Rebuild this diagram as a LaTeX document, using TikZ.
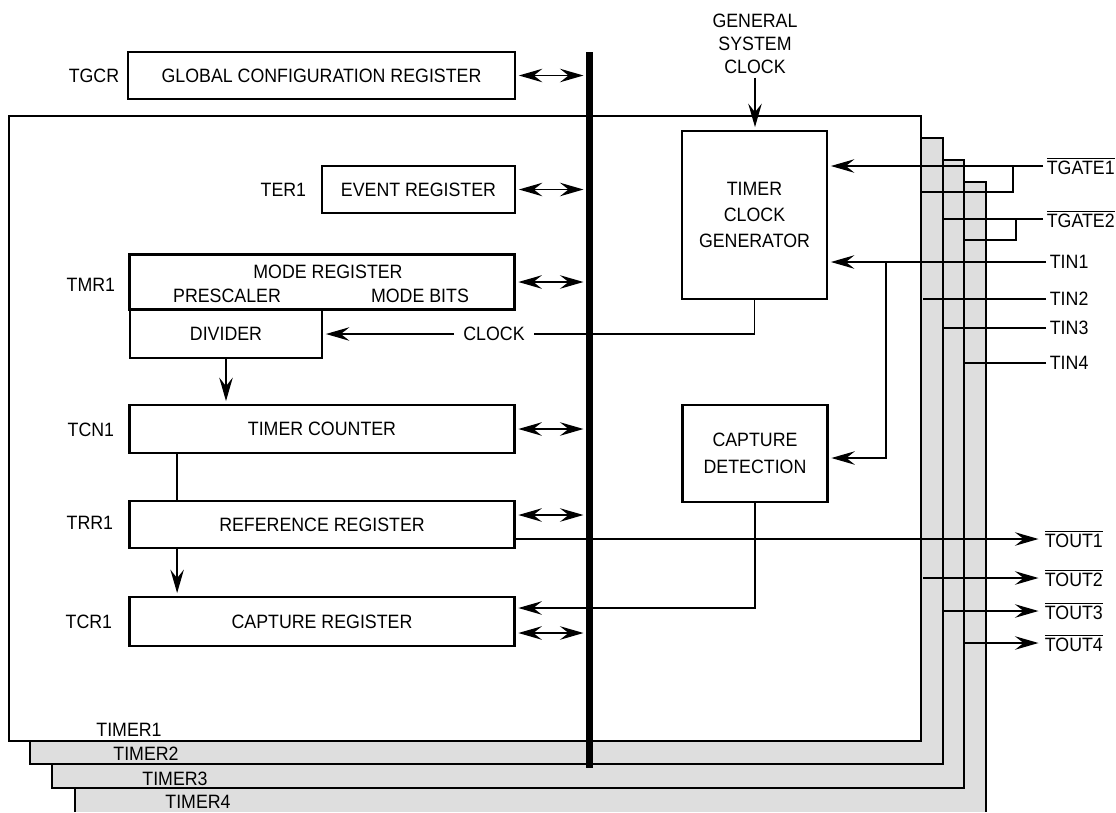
\documentclass[tikz,border=0pt]{standalone}
\usepackage{fontspec}
\setmainfont[FakeStretch=0.92]{Liberation Sans}
\usetikzlibrary{arrows.meta}
\newcommand{\ovl}[1]{$\overline{\mbox{#1}}$}

\begin{document}
\begin{tikzpicture}[x=0.02cm, y=-0.02cm,
  font=\fontsize{11}{13}\selectfont,
  tip/.tip={Stealth[length=0.47cm, width=0.27cm, inset=0.17cm]},
  reg/.style={rectangle, draw, line width=1.6pt, align=center, inner sep=0pt},
  frame/.style={draw, line width=1.6pt, fill=black!13},
  bus/.style={line width=4pt},
  w/.style={line width=0.9pt},
  e/.style={-tip, w, shorten >=0.05cm},
  bi/.style={tip-tip, w, shorten <=0.05cm, shorten >=0.05cm},
  lbl/.style={inner sep=2pt},
]
\useasboundingbox (0,0) rectangle (1116,812);

% timer frames, back to front
\fill[black!13] (75,182) rectangle (986,812);
\draw[line width=1.6pt] (75,812) |- (986,182) -- (986,812);
\foreach \xa/\ya/\xb/\yb in {52/160/964/788, 30/138/943/764}
  \draw[frame] (\xa,\ya) rectangle (\xb,\yb);
\draw[frame, fill=white] (9,116) rectangle (921,741);
\node[lbl] (tm1) at (129,730) {TIMER1};
\node[lbl] (tm2) at (146,754) {TIMER2};
\node[lbl] (tm3) at (175,779) {TIMER3};
\node[lbl] (tm4) at (198,802) {TIMER4};
\coordinate (f1) at (923,0);
\coordinate (f2) at (944,0);
\coordinate (f3) at (965,0);

% bus
\draw[bus] (589.5,52) -- (589.5,768);
\coordinate (bus) at (586,0);

% registers
\node[reg, minimum width=7.74cm, minimum height=0.94cm] (tgcr) at (321.5,75.5) {GLOBAL CONFIGURATION REGISTER};
\node[reg, minimum width=3.86cm, minimum height=0.94cm] (ter) at (418.5,189.5) {EVENT REGISTER};
\node[reg, minimum width=7.7cm, minimum height=1.1cm] (tmr) at (322,282) {};
\node[lbl] (modereg) at (328,272) {MODE REGISTER};
\node[lbl] (presc) at (227,296) {PRESCALER};
\node[lbl] (modebits) at (420,296) {MODE BITS};
\node[reg, minimum width=3.84cm, minimum height=0.96cm] (divider) at (226,334) {DIVIDER};
\node[reg, minimum width=7.7cm, minimum height=0.96cm] (tcn) at (322,429) {TIMER COUNTER};
\node[reg, minimum width=7.7cm, minimum height=0.94cm] (trr) at (322,524.5) {REFERENCE REGISTER};
\node[reg, minimum width=7.7cm, minimum height=0.98cm] (tcr) at (322,621.5) {CAPTURE REGISTER};
\node[reg, minimum width=2.9cm, minimum height=3.36cm] (clkgen) at (754.5,215) {TIMER\\[2pt]CLOCK\\[2pt]GENERATOR};
\node[reg, minimum width=2.9cm, minimum height=1.94cm] (capdet) at (755,453.5) {CAPTURE\\[2pt]DETECTION};

\node[lbl, anchor=east] (tgcrlbl) at (123,76) {TGCR};
\node[lbl, anchor=east] (terlbl) at (310,190) {TER1};
\node[lbl, anchor=east] (tmrlbl) at (119,285) {TMR1};
\node[lbl, anchor=east] (tcnlbl) at (118,430) {TCN1};
\node[lbl, anchor=east] (trrlbl) at (117,523) {TRR1};
\node[lbl, anchor=east] (tcrlbl) at (116,622) {TCR1};

% bus connections
\draw[bi] (tgcr.east) -- (tgcr.east -| bus);
\draw[bi] (ter.east) -- (ter.east -| bus);
\draw[bi] (tmr.east) -- (tmr.east -| bus);
\draw[bi] (tcn.east) -- (tcn.east -| bus);
\draw[bi] ([yshift=0.19cm]trr.east) -- ([yshift=0.19cm]trr.east -| bus);
\draw[bi] ([yshift=-0.23cm]tcr.east) -- ([yshift=-0.23cm]tcr.east -| bus);

% clocks
\node[lbl, align=center] (gsc) at (755,44) {GENERAL\\SYSTEM\\CLOCK};
\draw[e] (gsc.south) -- (gsc.south |- clkgen.north);
\node[lbl, inner xsep=5pt] (clk) at (494,334) {CLOCK};
\draw[w] (clkgen.south) |- (clk.east);
\draw[e] (clk.west) -- (divider.east);
\draw[e] (divider.south) -- (divider.south |- tcn.north);
\draw[w] ([xshift=0.98cm]tcn.south west) -- ([xshift=0.98cm]trr.north west);
\draw[e] ([xshift=0.98cm]trr.south west) -- ([xshift=0.98cm]tcr.north west);
\draw[e] (capdet.south) |- ([yshift=0.27cm]tcr.east);

% external pins
\node[lbl, anchor=west] (tgate1) at (1043,166) {\ovl{TGATE1}};
\node[lbl, anchor=west] (tgate2) at (1043,219) {\ovl{TGATE2}};
\node[lbl, anchor=west] (tin1) at (1046,262) {TIN1};
\node[lbl, anchor=west] (tin2) at (1046,299) {TIN2};
\node[lbl, anchor=west] (tin3) at (1046,328) {TIN3};
\node[lbl, anchor=west] (tin4) at (1046,363) {TIN4};
\node[lbl, anchor=west] (tout1) at (1041,539) {\ovl{TOUT1}};
\node[lbl, anchor=west] (tout2) at (1041,578) {\ovl{TOUT2}};
\node[lbl, anchor=west] (tout3) at (1041,611) {\ovl{TOUT3}};
\node[lbl, anchor=west] (tout4) at (1041,643) {\ovl{TOUT4}};
\coordinate (g1) at (1013,0);
\coordinate (g1b) at (922,192);
\coordinate (g2) at (1016,0);
\coordinate (g2b) at (965,240);
\coordinate (t1) at (886,0);

\draw[e] (tgate1.west) -- (tgate1.west -| clkgen.east);
\draw[w] (tgate1.west -| g1) |- (g1b);
\draw[w] (tgate2.west) -- (tgate2.west -| f2);
\draw[w] (tgate2.west -| g2) |- (g2b);
\draw[e] (tin1.west) -- (tin1.west -| clkgen.east);
\draw[e] (tin1.west -| t1) |- ([yshift=-0.09cm]capdet.east);
\draw[w] (tin2.west) -- (tin2.west -| f1);
\draw[w] (tin3.west) -- (tin3.west -| f2);
\draw[w] (tin4.west) -- (tin4.west -| f3);
\draw[e] (trr.east |- tout1.west) -- (tout1.west);
\draw[e] (tout2.west -| f1) -- (tout2.west);
\draw[e] (tout3.west -| f2) -- (tout3.west);
\draw[e] (tout4.west -| f3) -- (tout4.west);
\end{tikzpicture}
\end{document}
